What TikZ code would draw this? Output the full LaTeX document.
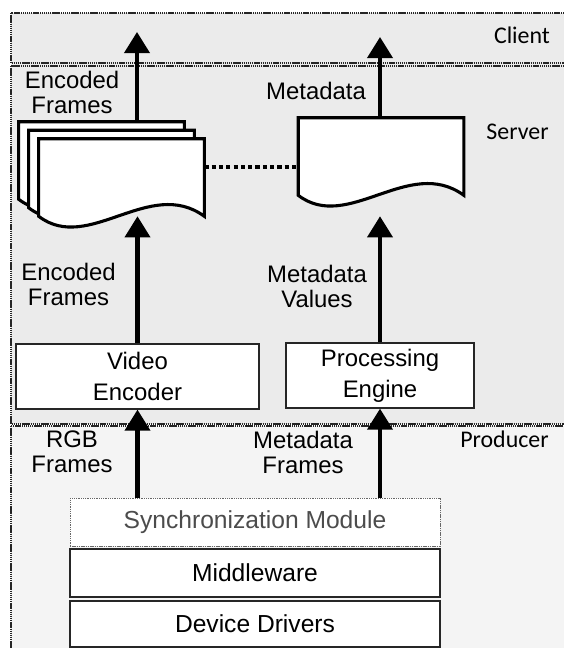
\documentclass[tikz,border=0pt]{standalone}
\usepackage{fontspec}
\setmainfont{Liberation Sans}
\newfontfamily\layerfont{Carlito}
\usetikzlibrary{arrows.meta,calc}
\definecolor{layerfill}{HTML}{EBEBEB}
\definecolor{prodfill}{HTML}{F4F4F4}
\tikzstyle{layer}=[draw=black!85,line width=1.6pt,dash pattern=on 1pt off 0.5pt]
\tikzstyle{layerlabel}=[anchor=base,inner sep=0,font=\layerfont\fontsize{17}{20}\selectfont]
\tikzstyle{flowlabel}=[align=center,inner sep=0,font=\fontsize{17}{17.8}\selectfont]
\tikzset{
  compbox/.style={draw=black!85,line width=0.9pt,fill=white,align=center,
    minimum height=1.625cm,font=\fontsize{17}{22}\selectfont},
  stackbox/.style={draw=black!85,line width=1.1pt,fill=white,
    minimum width=9.25cm,minimum height=1.2cm,font=\fontsize{17.5}{20}\selectfont},
  docbox/.style={minimum width=4.125cm,minimum height=1.925cm,inner sep=0},
  docline/.style={draw=black,line width=2.2pt,fill=white,line join=miter},
  flow/.style={line width=2.85pt,-{Triangle[length=15pt,width=17.8pt]}},
  dotline/.style={line width=2.6pt,dash pattern=on 3pt off 2.2pt}
}
% page outline with the wavy bottom edge
\newcommand{\docpath}[1]{%
  \draw[docline] (#1.north west) -- (#1.north east) -- (#1.south east)
    .. controls ($(#1.south west)!0.67!(#1.south east)+(0,-40)$)
    and ($(#1.south west)!0.3!(#1.south east)+(0,38)$) .. (#1.south west) -- cycle;}

\begin{document}
\begin{tikzpicture}[x=0.025cm,y=-0.025cm]

\useasboundingbox (0,0) rectangle (563,648);

\fill[layerfill] (11,13) rectangle (575,424);
\draw[layer] (11,13) rectangle (575,63);
\draw[layer] (11,66) rectangle (575,424);
\fill[prodfill] (11,426) rectangle (575,660);
\draw[layer] (11,426) rectangle (575,660);

\node[layerlabel] (clientlbl) at (522,44) {Client};
\node[layerlabel] (serverlbl) at (517.5,140) {Server};
\node[layerlabel] (prodlbl) at (504.5,447) {Producer};

\node[docbox] (encback) at (101.5,160.5) {};
\node[docbox] (encmid) at (111.5,169) {};
\node[docbox] (encfront) at (121.5,177.5) {};
\node[docbox] (metadoc) at (381,156.5) {};
\docpath{encback}
\docpath{encmid}
\docpath{encfront}
\docpath{metadoc}

\node[compbox,minimum width=6.075cm] (venc) at (137.5,376.5) {Video\\Encoder};
\node[compbox,minimum width=4.7cm] (proc) at (380,375.5) {Processing\\Engine};
\node[stackbox,draw=black!60,line width=0.6pt,dash pattern=on 1pt off 0.6pt,
  text=black!70] (sync) at (255,522) {Synchronization Module};
\node[stackbox] (mware) at (255,573) {Middleware};
\node[stackbox,minimum height=1.15cm] (drv) at (255,624) {Device Drivers};

\coordinate (encout) at (137,32);
\coordinate (metaout) at (380,37);
\coordinate (dotrow) at (0,167);

\draw[flow] (encout |- encback.north) -- (encout);
\draw[flow] (metaout |- metadoc.north) -- (metaout);
\draw[flow] (venc.north) -- (venc.north |- encfront.south);
\draw[flow] (proc.north) -- (proc.north |- encfront.south);
\draw[flow] (venc.south |- sync.north) -- (venc.south);
\draw[flow] (proc.south |- sync.north) -- (proc.south);
\draw[dotline] (encfront.east |- dotrow) -- (metadoc.west |- dotrow);

\node[flowlabel] (encl1) at (72,92) {Encoded\\Frames};
\node[flowlabel,anchor=base] (metal1) at (316,100) {Metadata};
\node[flowlabel] (encl2) at (68.5,284) {Encoded\\Frames};
\node[flowlabel] (metal2) at (317,286.5) {Metadata\\Values};
\node[flowlabel] (rgbl) at (72,452) {RGB\\Frames};
\node[flowlabel] (mfrl) at (303,452) {Metadata\\Frames};

\end{tikzpicture}
\end{document}
